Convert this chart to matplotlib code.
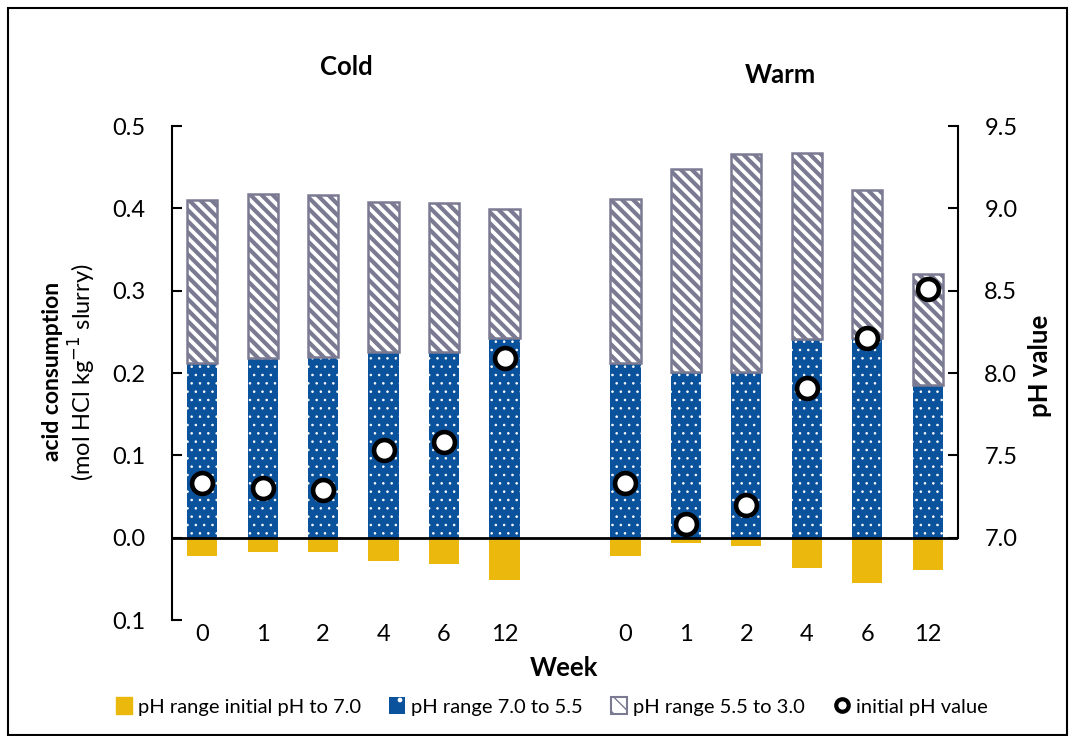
import matplotlib.pyplot as plt
from matplotlib.patches import Rectangle, Patch
from matplotlib.lines import Line2D

# weeks sampled in each storage condition
weeks = ["0", "1", "2", "4", "6", "12"]

# acid consumption (mol HCl / kg slurry) per pH range
cold_to_70 = [0.022, 0.017, 0.017, 0.028, 0.032, 0.051]
cold_70_55 = [0.212, 0.218, 0.220, 0.225, 0.225, 0.242]
cold_55_30 = [0.198, 0.199, 0.196, 0.183, 0.181, 0.157]
cold_ph = [7.33, 7.30, 7.29, 7.53, 7.58, 8.09]

warm_to_70 = [0.022, 0.007, 0.010, 0.037, 0.055, 0.039]
warm_70_55 = [0.212, 0.201, 0.201, 0.241, 0.243, 0.186]
warm_55_30 = [0.199, 0.247, 0.265, 0.226, 0.179, 0.134]
warm_ph = [7.33, 7.08, 7.20, 7.91, 8.21, 8.51]

YELLOW = "#EBB80E"
BLUE = "#0B529C"
GREY = "#7A7B92"

plt.rcParams["font.family"] = ["Lato", "DejaVu Sans"]

fig = plt.figure(figsize=(10.73, 7.36), dpi=100)
ax = fig.add_axes([0.1603, 0.1576, 0.7325, 0.6712])

# cold bars at 0..5, warm bars at 7..12 (one empty slot between)
x_cold = list(range(6))
x_warm = list(range(7, 13))
xs = x_cold + x_warm
to_70 = cold_to_70 + warm_to_70
r70_55 = cold_70_55 + warm_70_55
r55_30 = cold_55_30 + warm_55_30
ph = cold_ph + warm_ph

w = 0.5
ax.bar(xs, [-v for v in to_70], w, color=YELLOW, linewidth=0, zorder=2)
with plt.rc_context({"hatch.linewidth": 0.6}):
    ax.bar(xs, r70_55, w, color=BLUE, edgecolor="white", hatch="..",
           linewidth=0, zorder=2)
with plt.rc_context({"hatch.linewidth": 3.0}):
    ax.bar(xs, r55_30, w, bottom=r70_55, color="white", edgecolor=GREY,
           hatch="\\\\\\", linewidth=1.8, zorder=2)
ax.axhline(0, color="black", linewidth=2, zorder=3)

ax.set_xlim(-0.5, 12.5)
ax.set_ylim(-0.1, 0.5)
ax.set_yticks([-0.1, 0.0, 0.1, 0.2, 0.3, 0.4, 0.5])
ax.set_yticklabels(["0.1", "0.0", "0.1", "0.2", "0.3", "0.4", "0.5"])
ax.set_xticks(xs)
ax.set_xticklabels(weeks + weeks)
ax.tick_params(axis="y", direction="in", length=7, width=1.5, pad=19,
               labelsize=17)
ax.tick_params(axis="x", length=0, pad=3, labelsize=17)
for side in ["top", "right", "bottom"]:
    ax.spines[side].set_visible(False)
ax.spines["left"].set_linewidth(1.5)

# pH on the secondary axis
ax2 = ax.twinx()
ax2.plot(xs, ph, linestyle="none", marker="o", markersize=15,
         markerfacecolor="white", markeredgecolor="black",
         markeredgewidth=3.3, zorder=5)
ax2.set_ylim(6.5, 9.5)
ax2.set_yticks([7.0, 7.5, 8.0, 8.5, 9.0, 9.5])
ax2.set_yticklabels(["7.0", "7.5", "8.0", "8.5", "9.0", "9.5"])
ax2.tick_params(axis="y", direction="in", length=7, width=1.5, pad=19,
                labelsize=17)
for side in ["top", "left", "bottom"]:
    ax2.spines[side].set_visible(False)
ax2.spines["right"].set_bounds(7.0, 9.5)
ax2.spines["right"].set_linewidth(1.5)

fig.text(0.3225, 0.909, "Cold", ha="center", va="center", fontsize=18.5,
         fontweight="bold")
fig.text(0.727, 0.898, "Warm", ha="center", va="center", fontsize=18.5,
         fontweight="bold")
fig.text(0.526, 0.093, "Week", ha="center", va="center", fontsize=18.5,
         fontweight="bold")
fig.text(0.049, 0.495, "acid consumption", rotation=90, ha="center",
         va="center", fontsize=16.5, fontweight="bold")
fig.text(0.077, 0.494, "(mol HCl kg$^{-1}$ slurry)", rotation=90,
         ha="center", va="center", fontsize=17)
fig.text(0.969, 0.503, "pH value", rotation=90, ha="center", va="center",
         fontsize=18.5, fontweight="bold")

with plt.rc_context({"hatch.linewidth": 0.6}):
    blue_handle = Patch(facecolor=BLUE, edgecolor="white", hatch=".",
                        linewidth=0)
with plt.rc_context({"hatch.linewidth": 1.5}):
    grey_handle = Patch(facecolor="white", edgecolor=GREY, hatch="\\\\",
                        linewidth=1.5)
handles = [
    Patch(facecolor=YELLOW, edgecolor=YELLOW),
    blue_handle,
    grey_handle,
    Line2D([], [], linestyle="none", marker="o", markersize=9,
           markerfacecolor="white", markeredgecolor="black",
           markeredgewidth=3),
]
labels = ["pH range initial pH to 7.0", "pH range 7.0 to 5.5",
          "pH range 5.5 to 3.0", "initial pH value"]
fig.legend(handles, labels, loc="center", bbox_to_anchor=(0.514, 0.040),
           ncol=4, frameon=False, fontsize=14.5, handlelength=0.8,
           handleheight=0.9, handletextpad=0.3, columnspacing=1.4)

# chart border
fig.add_artist(Rectangle((0.0072, 0.002), 0.9875, 0.987,
                         transform=fig.transFigure, fill=False,
                         edgecolor="black", linewidth=1.5))

fig.savefig("out.png", dpi=100)
